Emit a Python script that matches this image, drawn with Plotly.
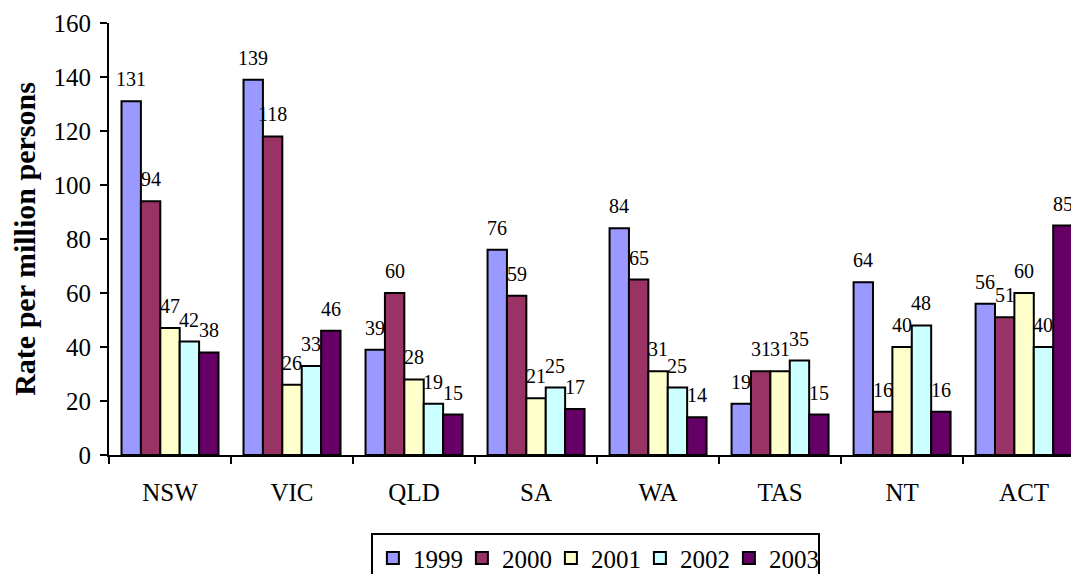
import plotly.graph_objects as go

categories = ["NSW", "VIC", "QLD", "SA", "WA", "TAS", "NT", "ACT"]
years = ["1999", "2000", "2001", "2002", "2003"]
v1999 = [131, 139, 39, 76, 84, 19, 64, 56]
v2000 = [94, 118, 60, 59, 65, 31, 16, 51]
v2001 = [47, 26, 28, 21, 31, 31, 40, 60]
v2002 = [42, 33, 19, 25, 25, 35, 48, 40]
v2003 = [38, 46, 15, 17, 14, 15, 16, 85]
series = [v1999, v2000, v2001, v2002, v2003]
colors = ["#9999FF", "#993366", "#FFFFCC", "#CCFFFF", "#660066"]
y_ticks = [0, 20, 40, 60, 80, 100, 120, 140, 160]

FONT = "Liberation Serif"
BARGAP = 0.205

fig = go.Figure()
for name, vals, col in zip(years, series, colors):
    fig.add_trace(go.Bar(
        x=categories, y=vals, name=name,
        marker=dict(color=col, line=dict(color="black", width=2)),
    ))

n = len(years)
w = (1 - BARGAP) / n
annotations = []
for j, vals in enumerate(series):
    for i, v in enumerate(vals):
        annotations.append(dict(
            x=i + (j - (n - 1) / 2) * w, y=v, xref="x", yref="y",
            text=str(v), showarrow=False, yshift=22,
            font=dict(family=FONT, size=20, color="black"),
        ))

fig.update_layout(
    template="none",
    width=1071, height=566,
    margin=dict(l=101, r=0, t=15, b=119, autoexpand=False),
    paper_bgcolor="white", plot_bgcolor="white",
    barmode="group", bargap=BARGAP, bargroupgap=0,
    font=dict(family=FONT, color="black"),
    showlegend=True,
    legend=dict(
        orientation="h", x=0.270, xanchor="left", y=-0.181, yanchor="top",
        bordercolor="black", borderwidth=2,
        font=dict(family=FONT, size=25, color="black"),
        itemwidth=30, traceorder="normal",
        entrywidth=44, entrywidthmode="pixels",
    ),
    annotations=annotations,
    xaxis=dict(
        type="category", range=[-0.5, 7.45], tickson="boundaries",
        automargin=False,
        showline=True, linecolor="black", linewidth=2,
        ticks="outside", ticklen=7, tickwidth=2, tickcolor="black",
        tickfont=dict(family=FONT, size=25, color="black"),
        ticklabelstandoff=14, showgrid=False, zeroline=False,
    ),
    yaxis=dict(
        range=[0, 160], tickvals=y_ticks, automargin=False,
        showline=True, linecolor="black", linewidth=2,
        ticks="outside", ticklen=7, tickwidth=2, tickcolor="black",
        tickfont=dict(family=FONT, size=25, color="black"),
        ticklabelstandoff=4, showgrid=False, zeroline=False,
        title=dict(text="<b>Rate per million persons</b>",
                   font=dict(family=FONT, size=30, color="black"), standoff=16),
    ),
)

fig.write_html("out.html")
